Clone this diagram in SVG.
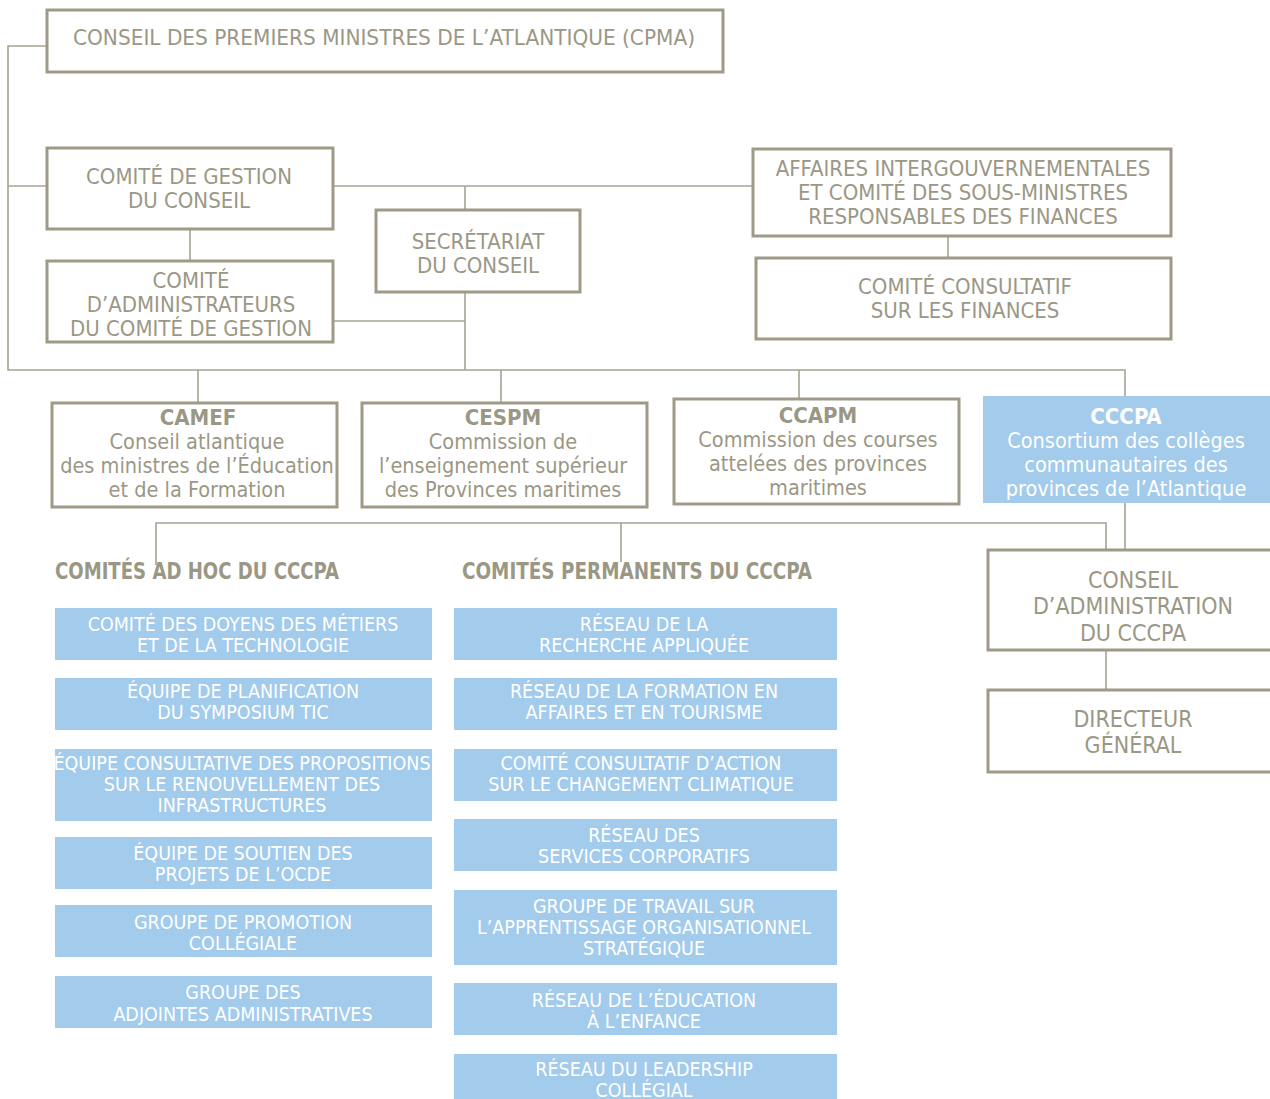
<svg xmlns="http://www.w3.org/2000/svg" width="1270" height="1099" viewBox="0 0 1270 1099">
<style>
.bx{fill:#fff;stroke:#9e9a87;stroke-width:3}
.bl{fill:#a3cbec}
.ln{fill:none;stroke:#a7a393;stroke-width:1.6}
text{font-family:"Liberation Sans Narrow","DejaVu Sans Condensed","Liberation Sans",sans-serif;font-stretch:condensed;text-anchor:middle}
.g{fill:#9b9785;font-size:22px}
.m{fill:#9b9785;font-size:21.5px}
.gb{fill:#9b9785;font-size:22px;font-weight:bold}
.w{fill:#fff;font-size:19.5px}
.wm{fill:#fff;font-size:21.5px}
.wb{fill:#fff;font-size:22px;font-weight:bold}
.h{fill:#9b9785;font-size:22.5px;font-weight:bold;text-anchor:start}
</style>
<g id="connectors">
<path class="ln" d="M46 46H8V370H1125V396"/>
<path class="ln" d="M8 186H46"/>
<path class="ln" d="M334 186H752"/>
<path class="ln" d="M465 186V209"/>
<path class="ln" d="M465 293V370"/>
<path class="ln" d="M190 230V260"/>
<path class="ln" d="M334 321H465"/>
<path class="ln" d="M948 237V257"/>
<path class="ln" d="M198 370V402"/>
<path class="ln" d="M501 370V402"/>
<path class="ln" d="M799 370V398"/>
<path class="ln" d="M1125 503V549"/>
<path class="ln" d="M156 565V523H1106V549"/>
<path class="ln" d="M621 523V562"/>
<path class="ln" d="M1106 651V689"/>
</g>
<g id="cpma"><rect class="bx" x="47" y="10" width="676" height="62"/>
<text class="g" x="384" y="45" textLength="622" lengthAdjust="spacingAndGlyphs">CONSEIL DES PREMIERS MINISTRES DE L’ATLANTIQUE (CPMA)</text></g>
<g id="gestion"><rect class="bx" x="47" y="148" width="286" height="81"/>
<text class="g" x="189" y="184">COMITÉ DE GESTION</text><text class="g" x="189" y="208">DU CONSEIL</text></g>
<g id="administrateurs"><rect class="bx" x="47" y="261" width="286" height="81"/>
<text class="g" x="191" y="288">COMITÉ</text><text class="g" x="191" y="312">D’ADMINISTRATEURS</text><text class="g" x="191" y="336">DU COMITÉ DE GESTION</text></g>
<g id="secretariat"><rect class="bx" x="376" y="210" width="204" height="82"/>
<text class="g" x="478" y="249">SECRÉTARIAT</text><text class="g" x="478" y="273">DU CONSEIL</text></g>
<g id="affaires"><rect class="bx" x="753" y="149" width="418" height="87"/>
<text class="g" x="963" y="176">AFFAIRES INTERGOUVERNEMENTALES</text><text class="g" x="963" y="200">ET COMITÉ DES SOUS-MINISTRES</text><text class="g" x="963" y="224">RESPONSABLES DES FINANCES</text></g>
<g id="consultatif"><rect class="bx" x="756" y="258" width="415" height="81"/>
<text class="g" x="965" y="294">COMITÉ CONSULTATIF</text><text class="g" x="965" y="318">SUR LES FINANCES</text></g>
<g id="camef"><rect class="bx" x="52" y="403" width="285" height="104"/>
<text class="gb" x="198" y="425">CAMEF</text><text class="m" x="197" y="449">Conseil atlantique</text><text class="m" x="197" y="473">des ministres de l’Éducation</text><text class="m" x="197" y="497">et de la Formation</text></g>
<g id="cespm"><rect class="bx" x="362" y="403" width="285" height="104"/>
<text class="gb" x="503" y="425">CESPM</text><text class="m" x="503" y="449">Commission de</text><text class="m" x="503" y="473">l’enseignement supérieur</text><text class="m" x="503" y="497">des Provinces maritimes</text></g>
<g id="ccapm"><rect class="bx" x="674" y="399" width="285" height="105"/>
<text class="gb" x="818" y="423">CCAPM</text><text class="m" x="818" y="447">Commission des courses</text><text class="m" x="818" y="471">attelées des provinces</text><text class="m" x="818" y="495">maritimes</text></g>
<g id="cccpa"><rect class="bl" x="983" y="396" width="287" height="107"/>
<text class="wb" x="1126" y="424">CCCPA</text><text class="wm" x="1126" y="448">Consortium des collèges</text><text class="wm" x="1126" y="472">communautaires des</text><text class="wm" x="1126" y="496">provinces de l’Atlantique</text></g>
<g id="conseil-cccpa"><rect class="bx" x="988" y="550" width="290" height="100"/>
<text class="g" style="font-size:23px" x="1133" y="588">CONSEIL</text><text class="g" style="font-size:23px" x="1133" y="614">D’ADMINISTRATION</text><text class="g" style="font-size:23px" x="1133" y="641">DU CCCPA</text></g>
<g id="directeur"><rect class="bx" x="988" y="690" width="290" height="82"/>
<text class="g" style="font-size:23px" x="1133" y="727">DIRECTEUR</text><text class="g" style="font-size:23px" x="1133" y="753">GÉNÉRAL</text></g>
<g id="heading-adhoc"><text class="h" x="55" y="579" textLength="284" lengthAdjust="spacingAndGlyphs">COMITÉS AD HOC DU CCCPA</text></g>
<g id="heading-permanents"><text class="h" x="462" y="579" textLength="350" lengthAdjust="spacingAndGlyphs">COMITÉS PERMANENTS DU CCCPA</text></g>
<g id="a1"><rect class="bl" x="55" y="608" width="377" height="52"/><text class="w" x="243" y="631">COMITÉ DES DOYENS DES MÉTIERS</text><text class="w" x="243" y="652">ET DE LA TECHNOLOGIE</text></g>
<g id="a2"><rect class="bl" x="55" y="678" width="377" height="52"/><text class="w" x="243" y="698">ÉQUIPE DE PLANIFICATION</text><text class="w" x="243" y="719">DU SYMPOSIUM TIC</text></g>
<g id="a3"><rect class="bl" x="55" y="749" width="377" height="72"/><text class="w" x="242" y="770">ÉQUIPE CONSULTATIVE DES PROPOSITIONS</text><text class="w" x="242" y="791">SUR LE RENOUVELLEMENT DES</text><text class="w" x="242" y="812">INFRASTRUCTURES</text></g>
<g id="a4"><rect class="bl" x="55" y="837" width="377" height="52"/><text class="w" x="243" y="860">ÉQUIPE DE SOUTIEN DES</text><text class="w" x="243" y="881">PROJETS DE L’OCDE</text></g>
<g id="a5"><rect class="bl" x="55" y="905" width="377" height="52"/><text class="w" x="243" y="929">GROUPE DE PROMOTION</text><text class="w" x="243" y="950">COLLÉGIALE</text></g>
<g id="a6"><rect class="bl" x="55" y="976" width="377" height="52"/><text class="w" x="243" y="999">GROUPE DES</text><text class="w" x="243" y="1021">ADJOINTES ADMINISTRATIVES</text></g>
<g id="p1"><rect class="bl" x="454" y="608" width="383" height="52"/><text class="w" x="644" y="631">RÉSEAU DE LA</text><text class="w" x="644" y="652">RECHERCHE APPLIQUÉE</text></g>
<g id="p2"><rect class="bl" x="454" y="678" width="383" height="52"/><text class="w" x="644" y="698">RÉSEAU DE LA FORMATION EN</text><text class="w" x="644" y="719">AFFAIRES ET EN TOURISME</text></g>
<g id="p3"><rect class="bl" x="454" y="749" width="383" height="52"/><text class="w" x="641" y="770">COMITÉ CONSULTATIF D’ACTION</text><text class="w" x="641" y="791">SUR LE CHANGEMENT CLIMATIQUE</text></g>
<g id="p4"><rect class="bl" x="454" y="819" width="383" height="52"/><text class="w" x="644" y="842">RÉSEAU DES</text><text class="w" x="644" y="863">SERVICES CORPORATIFS</text></g>
<g id="p5"><rect class="bl" x="454" y="890" width="383" height="75"/><text class="w" x="644" y="913">GROUPE DE TRAVAIL SUR</text><text class="w" x="644" y="934">L’APPRENTISSAGE ORGANISATIONNEL</text><text class="w" x="644" y="955">STRATÉGIQUE</text></g>
<g id="p6"><rect class="bl" x="454" y="983" width="383" height="52"/><text class="w" x="644" y="1007">RÉSEAU DE L’ÉDUCATION</text><text class="w" x="644" y="1028">À L’ENFANCE</text></g>
<g id="p7"><rect class="bl" x="454" y="1054" width="383" height="50"/><text class="w" x="644" y="1076">RÉSEAU DU LEADERSHIP</text><text class="w" x="644" y="1097">COLLÉGIAL</text></g>
</svg>
